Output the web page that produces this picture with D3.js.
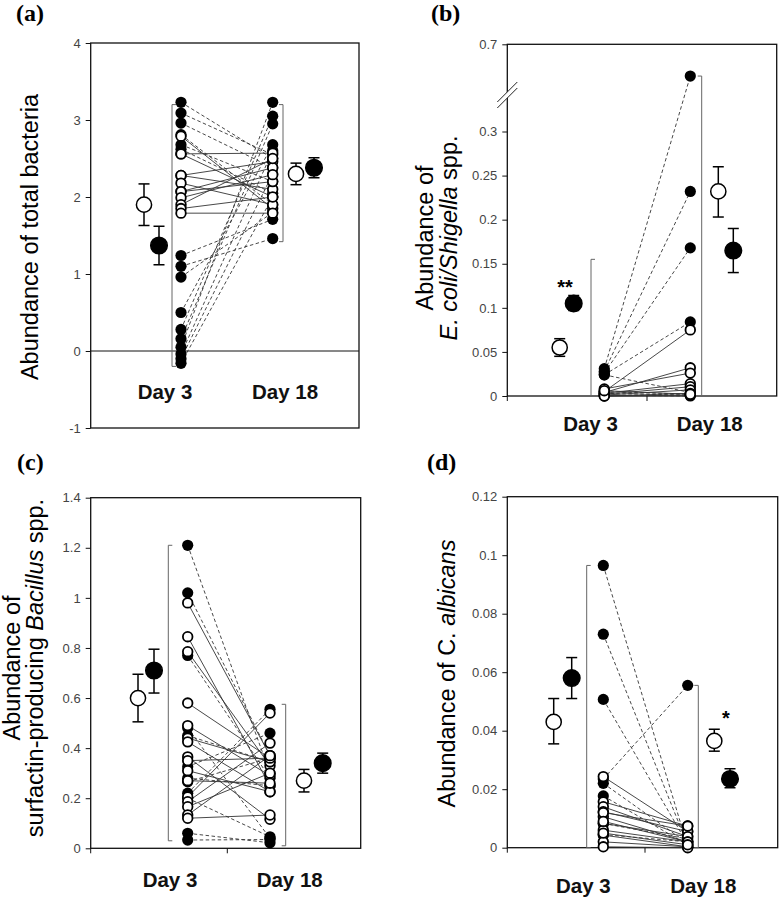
<!DOCTYPE html>
<html><head><meta charset="utf-8">
<script src="https://cdn.jsdelivr.net/npm/d3@7"></script>
<style>
body{margin:0;background:#fff}
svg{display:block}
text{font-family:"Liberation Sans",Arial,sans-serif}
</style>
</head><body>
<svg id="chart" width="780" height="902"></svg>
<script>
// ---------------- DATA ----------------
const days = ["Day 3", "Day 18"];

// (a) total bacteria
const aTicks = [-1, 0, 1, 2, 3, 4];
const aFilledD3  = [3.23, 3.09, 2.96, 2.81, 2.68, 2.62, 1.24, 1.10, 0.96, 0.50, 0.28, 0.16, 0.05, -0.04, -0.10, -0.16];
const aFilledD18 = [2.50, 2.55, 2.38, 1.90, 2.20, 2.05, 1.71, 1.46, 1.80, 2.68, 3.05, 2.95, 3.23, 2.60, 2.30, 2.00];
const aOpenD3    = [2.79, 2.56, 2.56, 2.28, 2.28, 2.18, 2.07, 2.07, 1.99, 1.90, 1.85, 1.79];
const aOpenD18   = [1.85, 2.57, 2.00, 2.46, 2.10, 1.90, 2.38, 2.20, 2.29, 2.50, 2.00, 1.79];
const aOpenMean = [1.90, 2.30], aOpenLo = [1.63, 2.16], aOpenHi = [2.17, 2.44];
const aFilledMean = [1.37, 2.38], aFilledLo = [1.12, 2.25], aFilledHi = [1.62, 2.51];
const aRange3 = [-0.2, 3.2], aRange18 = [1.42, 3.2];

// (b) E. coli / Shigella
const bTicks = [0, 0.05, 0.1, 0.15, 0.2, 0.25, 0.3, 0.7];
const bFilledD3  = [0.031, 0.028, 0.026, 0.024, 0.024, 0.005, 0.003, 0.001];
const bFilledD18 = [0.585, 0.232, 0.168, 0.084, 0.004, 0.002, 0.001, 0.0];
const bOpenD3    = [0.005, 0.004, 0.008, 0.003, 0.002, 0.001, 0.0, 0.0, 0.006];
const bOpenD18   = [0.075, 0.032, 0.026, 0.014, 0.0105, 0.007, 0.003, 0.001, 0.002];
const bOpenMean = [0.055, 0.232], bOpenLo = [0.045, 0.203], bOpenHi = [0.065, 0.260];
const bFilledMean = [0.105, 0.165], bFilledLo = [0.097, 0.140], bFilledHi = [0.114, 0.190];
const bRange3 = [0, 0.155], bRange18 = [0, 0.585];
const bMarks = ["**", ""];

// (c) surfactin-producing Bacillus
const cTicks = [0, 0.2, 0.4, 0.6, 0.8, 1, 1.2, 1.4];
const cFilledD3  = [1.21, 1.02, 0.77, 0.48, 0.326, 0.28, 0.266, 0.22, 0.06, 0.033, 0.45, 0.20];
const cFilledD18 = [0.30, 0.37, 0.28, 0.04, 0.46, 0.25, 0.36, 0.555, 0.022, 0.035, 0.345, 0.046];
const cOpenD3    = [0.98, 0.845, 0.785, 0.58, 0.49, 0.44, 0.425, 0.365, 0.35, 0.31, 0.205, 0.186, 0.166, 0.133, 0.12, 0.27];
const cOpenD18   = [0.37, 0.25, 0.33, 0.36, 0.29, 0.345, 0.226, 0.116, 0.36, 0.226, 0.54, 0.42, 0.30, 0.37, 0.133, 0.26];
const cOpenMean = [0.60, 0.27], cOpenLo = [0.505, 0.225], cOpenHi = [0.695, 0.315];
const cFilledMean = [0.71, 0.34], cFilledLo = [0.62, 0.30], cFilledHi = [0.795, 0.38];
const cRange3 = [0.03, 1.21], cRange18 = [0.01, 0.575];

// (d) C. albicans
const dTicks = [0, 0.02, 0.04, 0.06, 0.08, 0.1, 0.12];
const dFilledD3  = [0.0965, 0.073, 0.0507, 0.0235, 0.022, 0.0177, 0.0083, 0.0045];
const dFilledD18 = [0.0003, 0.0008, 0.0012, 0.0555, 0.0015, 0.001, 0.003, 0.002];
const dOpenD3    = [0.0243, 0.0157, 0.014, 0.0123, 0.0106, 0.0083, 0.006, 0.0043, 0.002, 0.0003, 0.012, 0.009, 0.005];
const dOpenD18   = [0.0055, 0.0074, 0.0038, 0.0055, 0.002, 0.0038, 0.002, 0.0003, 0.0003, 0.0, 0.0074, 0.002, 0.001];
const dOpenMean = [0.043, 0.0365], dOpenLo = [0.0355, 0.033], dOpenHi = [0.051, 0.0405];
const dFilledMean = [0.058, 0.0235], dFilledLo = [0.051, 0.0205], dFilledHi = [0.065, 0.027];
const dRange3 = [0, 0.0965], dRange18 = [0, 0.0555];
const dMarks = ["", "*"];

// ---------------- LAYOUT ----------------
const panels = [
  { letter: "(a)", lx: 16, ly: 21, box: [90.7, 359, 43, 428],
    y: d3.scaleLinear().domain([-1, 4]).range([428, 43]), ticks: aTicks,
    pos: [144, 159, 172, 181, 272.7, 283, 296, 314], labelX: [165, 285], labelY: 399,
    xTicks: [], zero: true, brk: false,
    title: { xs: [38], cy: 237, lines: [[["Abundance of total bacteria", false]]] },
    fD3: aFilledD3, fD18: aFilledD18, oD3: aOpenD3, oD18: aOpenD18,
    oM: aOpenMean, oLo: aOpenLo, oHi: aOpenHi, fM: aFilledMean, fLo: aFilledLo, fHi: aFilledHi,
    r3: aRange3, r18: aRange18, marks: ["", ""] },
  { letter: "(b)", lx: 431, ly: 21, box: [507.3, 776.7, 44.3, 396],
    y: d3.scaleLinear().domain([0, 0.3, 0.52, 0.7]).range([396, 131.5, 94, 44.3]), ticks: bTicks,
    pos: [559.7, 573.7, 591, 604.3, 690.3, 701.7, 718.3, 733.3], labelX: [590.5, 709.7], labelY: 431,
    xTicks: [507.3, 647], zero: false, brk: true,
    title: { xs: [433, 457], cy: 238, lines: [[["Abundance of", false]], [["E. coli/Shigella", true], [" spp.", false]]] },
    fD3: bFilledD3, fD18: bFilledD18, oD3: bOpenD3, oD18: bOpenD18,
    oM: bOpenMean, oLo: bOpenLo, oHi: bOpenHi, fM: bFilledMean, fLo: bFilledLo, fHi: bFilledHi,
    r3: bRange3, r18: bRange18, marks: bMarks, markPos: [[565, 294], null] },
  { letter: "(c)", lx: 17, ly: 470, box: [90.7, 360.7, 497.7, 848.3],
    y: d3.scaleLinear().domain([0, 1.4]).range([848.3, 497.7]), ticks: cTicks,
    pos: [138, 154, 168.3, 187.7, 270, 285.7, 304, 322.7], labelX: [170, 289.7], labelY: 887,
    xTicks: [90.7, 227.3], zero: false, brk: false,
    title: { xs: [20, 43], cy: 668, lines: [[["Abundance of", false]], [["surfactin-producing ", false], ["Bacillus", true], [" spp.", false]]] },
    fD3: cFilledD3, fD18: cFilledD18, oD3: cOpenD3, oD18: cOpenD18,
    oM: cOpenMean, oLo: cOpenLo, oHi: cOpenHi, fM: cFilledMean, fLo: cFilledLo, fHi: cFilledHi,
    r3: cRange3, r18: cRange18, marks: ["", ""] },
  { letter: "(d)", lx: 427, ly: 470, box: [507.3, 777.7, 496.7, 847.7],
    y: d3.scaleLinear().domain([0, 0.12]).range([847.7, 496.7]), ticks: dTicks,
    pos: [553.7, 571.7, 586.7, 603.3, 687.7, 698.3, 714.3, 730], labelX: [583.3, 703.3], labelY: 893,
    xTicks: [507.3, 645], zero: false, brk: false,
    title: { xs: [455], cy: 673.5, lines: [[["Abundance of C. ", false], ["albicans", true]]] },
    fD3: dFilledD3, fD18: dFilledD18, oD3: dOpenD3, oD18: dOpenD18,
    oM: dOpenMean, oLo: dOpenLo, oHi: dOpenHi, fM: dFilledMean, fLo: dFilledLo, fHi: dFilledHi,
    r3: dRange3, r18: dRange18, marks: dMarks, markPos: [null, [726, 725]] }
];

const svg = d3.select("#chart");
const slotKeys = ["open3", "filled3", "br3", "c3", "c18", "br18", "open18", "filled18"];

panels.forEach(p => {
  const g = svg.append("g");
  const y = p.y;
  const x = d3.scaleOrdinal().domain(slotKeys).range(p.pos);
  const [x0, x1, y0, y1] = p.box;

  g.append("rect").attr("x", x0).attr("y", y0).attr("width", x1 - x0).attr("height", y1 - y0)
    .attr("fill", "none").attr("stroke", "#111").attr("stroke-width", 1.3);

  if (p.zero) {
    g.append("line").attr("x1", x0).attr("x2", x1).attr("y1", y(0)).attr("y2", y(0))
      .attr("stroke", "#111").attr("stroke-width", 1);
  }

  const ax = g.append("g").attr("transform", `translate(${x0},0)`)
    .call(d3.axisLeft(y).tickValues(p.ticks).tickSize(5).tickPadding(5).tickFormat(d => String(d)));
  ax.select(".domain").remove();
  ax.selectAll(".tick line").attr("stroke", "#111").attr("stroke-width", 1);
  ax.selectAll(".tick text").attr("fill", "#444").style("font-size", "13px")
    .style("font-family", '"Liberation Sans", Arial, sans-serif');

  g.selectAll(".xt").data(p.xTicks).enter().append("line")
    .attr("x1", d => d).attr("x2", d => d).attr("y1", y1).attr("y2", y1 + 5)
    .attr("stroke", "#111").attr("stroke-width", 1);

  if (p.brk) {
    const yb = 97;
    g.append("path").attr("d", `M${x0 - 9},${yb + 10} L${x0 + 9},${yb - 8} L${x0 + 9},${yb - 14} L${x0 - 9},${yb + 4} Z`)
      .attr("fill", "#fff").attr("stroke", "none");
    [0, 6].forEach(o => {
      g.append("line").attr("x1", x0 - 10).attr("y1", yb + 11 - o).attr("x2", x0 + 10).attr("y2", yb - 9 - o)
        .attr("stroke", "#222").attr("stroke-width", 1);
    });
  }

  const br = [[x("br3"), p.r3, 1], [x("br18"), p.r18, -1]];
  br.forEach(([bx, r, dir]) => {
    g.append("path")
      .attr("d", `M${bx + dir * 4},${y(r[1])} H${bx} V${y(r[0])} H${bx + dir * 4}`)
      .attr("fill", "none").attr("stroke", "#666").attr("stroke-width", 1);
  });

  const cx3 = x("c3"), cx18 = x("c18");
  const openPairs = p.oD3.map((v, i) => [v, p.oD18[i]]);
  const filledPairs = p.fD3.map((v, i) => [v, p.fD18[i]]);
  g.selectAll(".ls").data(openPairs).enter().append("line")
    .attr("x1", cx3).attr("x2", cx18).attr("y1", d => y(d[0])).attr("y2", d => y(d[1]))
    .attr("stroke", "#333").attr("stroke-width", 0.9);
  g.selectAll(".ld").data(filledPairs).enter().append("line")
    .attr("x1", cx3).attr("x2", cx18).attr("y1", d => y(d[0])).attr("y2", d => y(d[1]))
    .attr("stroke", "#333").attr("stroke-width", 0.9).attr("stroke-dasharray", "3.5,2.5");

  const filledDots = p.fD3.map(v => [cx3, v]).concat(p.fD18.map(v => [cx18, v]));
  const openDots = p.oD3.map(v => [cx3, v]).concat(p.oD18.map(v => [cx18, v]));
  g.selectAll(".fd").data(filledDots).enter().append("circle")
    .attr("cx", d => d[0]).attr("cy", d => y(d[1])).attr("r", 5.6).attr("fill", "#000");
  g.selectAll(".od").data(openDots).enter().append("circle")
    .attr("cx", d => d[0]).attr("cy", d => y(d[1])).attr("r", 4.8)
    .attr("fill", "#fff").attr("stroke", "#000").attr("stroke-width", 1.8);

  const summ = [
    [x("open3"), p.oM[0], p.oLo[0], p.oHi[0], false],
    [x("filled3"), p.fM[0], p.fLo[0], p.fHi[0], true],
    [x("open18"), p.oM[1], p.oLo[1], p.oHi[1], false],
    [x("filled18"), p.fM[1], p.fLo[1], p.fHi[1], true]
  ];
  summ.forEach(([sx, m, lo, hi, filled]) => {
    g.append("line").attr("x1", sx).attr("x2", sx).attr("y1", y(lo)).attr("y2", y(hi))
      .attr("stroke", "#000").attr("stroke-width", 1.5);
    [lo, hi].forEach(v => g.append("line").attr("x1", sx - 5.5).attr("x2", sx + 5.5)
      .attr("y1", y(v)).attr("y2", y(v)).attr("stroke", "#000").attr("stroke-width", 1.5));
    g.append("circle").attr("cx", sx).attr("cy", y(m)).attr("r", filled ? 8.3 : 7.6)
      .attr("fill", filled ? "#000" : "#fff").attr("stroke", "#000").attr("stroke-width", 1.5);
  });

  p.marks.forEach((mk, i) => {
    if (!mk) return;
    const mp = p.markPos[i];
    g.append("text").attr("x", mp[0]).attr("y", mp[1]).attr("text-anchor", "middle")
      .style("font-size", "20px").style("font-weight", "bold").text(mk);
  });

  g.selectAll(".dl").data(days).enter().append("text")
    .attr("x", (d, i) => p.labelX[i]).attr("y", p.labelY).attr("text-anchor", "middle")
    .style("font-size", "20.5px").style("font-weight", "bold").attr("fill", "#111").text(d => d);

  p.title.lines.forEach((parts, li) => {
    const t = g.append("text")
      .attr("transform", `translate(${p.title.xs[li]},${p.title.cy}) rotate(-90)`)
      .attr("text-anchor", "middle").style("font-size", "23.5px").attr("fill", "#000");
    parts.forEach(([s, it]) => t.append("tspan").style("font-style", it ? "italic" : "normal").text(s));
  });

  g.append("text").attr("x", p.lx).attr("y", p.ly)
    .style("font-family", '"Liberation Serif","Times New Roman",serif')
    .style("font-size", "24px").style("font-weight", "bold").text(p.letter);
});
</script>
</body></html>
